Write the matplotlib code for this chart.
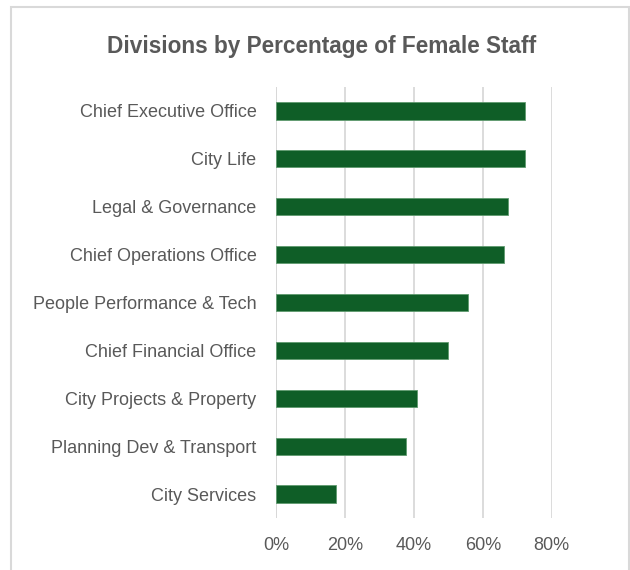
import matplotlib
matplotlib.use("Agg")
import matplotlib.pyplot as plt
from matplotlib.patches import Rectangle
from matplotlib.ticker import FuncFormatter

divisions = [
    "Chief Executive Office",
    "City Life",
    "Legal & Governance",
    "Chief Operations Office",
    "People Performance & Tech",
    "Chief Financial Office",
    "City Projects & Property",
    "Planning Dev & Transport",
    "City Services",
]
female_pct = [72.3, 72.3, 67.3, 66.3, 55.6, 50.0, 41.0, 37.6, 17.4]
x_ticks = [0, 20, 40, 60, 80]

plt.rcParams["font.family"] = ["Liberation Sans", "DejaVu Sans"]

fig = plt.figure(figsize=(6.3, 5.7), dpi=100)
ax = fig.add_axes([276 / 630, 1 - 518 / 570, (551.7 - 276) / 630, (518 - 87) / 570])

# cadre gris autour du graphique
fig.patches.append(
    Rectangle((11 / 630, -0.02), (629 - 11) / 630, 1 - 7 / 570 + 0.02,
              transform=fig.transFigure, fill=False, edgecolor="#d9d9d9",
              linewidth=1.5)
)

y = list(range(len(divisions)))
ax.barh(y, female_pct, height=0.36, color="#0f5e27", edgecolor="#5f9a6f",
        linewidth=0.6, zorder=3)

ax.set_ylim(len(divisions) - 0.5, -0.5)
ax.set_yticks(y)
ax.set_yticklabels(divisions)
ax.set_xlim(0, 80)
ax.set_xticks(x_ticks)
ax.xaxis.set_major_formatter(FuncFormatter(lambda v, p: f"{v:.0f}%"))

ax.grid(axis="x", color="#d9d9d9", linewidth=1.3, zorder=0)
for side in ["top", "right", "bottom", "left"]:
    ax.spines[side].set_visible(False)
ax.axvline(0, color="#d0d0d0", linewidth=1.3, zorder=1)

ax.tick_params(axis="y", length=0, pad=14, labelsize=13, labelcolor="#595959")
ax.tick_params(axis="x", length=0, pad=14, labelsize=13, labelcolor="#595959")

fig.text(322 / 630, 1 - 46 / 570, "Divisions by Percentage of Female Staff",
         ha="center", va="center", fontsize=16.3, fontweight="bold",
         color="#595959")

fig.savefig("out.png", dpi=100)
